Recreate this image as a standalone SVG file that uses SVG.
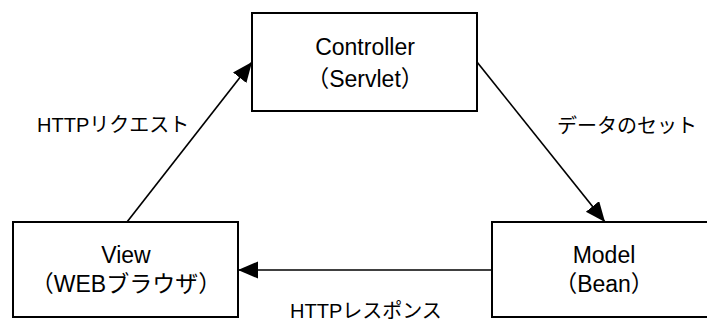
<svg xmlns="http://www.w3.org/2000/svg" width="707" height="325" viewBox="0 0 707 325">
  <style>
    .box { fill: #ffffff; stroke: #000000; stroke-width: 2; }
    .node { font-family: "Liberation Sans", "Noto Sans CJK JP", sans-serif; font-size: 23px; fill: #000000; text-anchor: middle; }
    .label { font-family: "Liberation Sans", "Noto Sans CJK JP", sans-serif; font-size: 20px; fill: #000000; }
    .edge { stroke: #000000; stroke-width: 1.7; fill: none; marker-end: url(#arrow); }
  </style>
  <defs>
    <marker id="arrow" markerUnits="userSpaceOnUse" markerWidth="22" markerHeight="18" refX="20" refY="8.5" orient="auto">
      <path d="M0,0 L20,8.5 L0,17 z" fill="#000000"/>
    </marker>
  </defs>
  <rect width="707" height="325" fill="#ffffff"/>

  <g id="controller">
    <rect class="box" x="252" y="13" width="225" height="98"/>
    <text class="node" x="365" y="55">Controller</text>
    <text class="node" x="365" y="87">（Servlet）</text>
  </g>

  <g id="view">
    <rect class="box" x="13" y="222" width="225" height="95"/>
    <text class="node" x="126" y="263">View</text>
    <text class="node" x="126" y="292">（WEBブラウザ）</text>
  </g>

  <g id="model">
    <rect class="box" x="492" y="222" width="225" height="95"/>
    <text class="node" x="604" y="263">Model</text>
    <text class="node" x="604" y="292">（Bean）</text>
  </g>

  <g id="connectors">
    <line class="edge" x1="127" y1="222" x2="252" y2="62"/>
    <line class="edge" x1="477" y1="62" x2="605" y2="222"/>
    <line class="edge" x1="492" y1="270" x2="238" y2="270"/>
    <text class="label" x="37" y="132">HTTPリクエスト</text>
    <text class="label" x="557" y="133">データのセット</text>
    <text class="label" x="290" y="318">HTTPレスポンス</text>
  </g>
</svg>
